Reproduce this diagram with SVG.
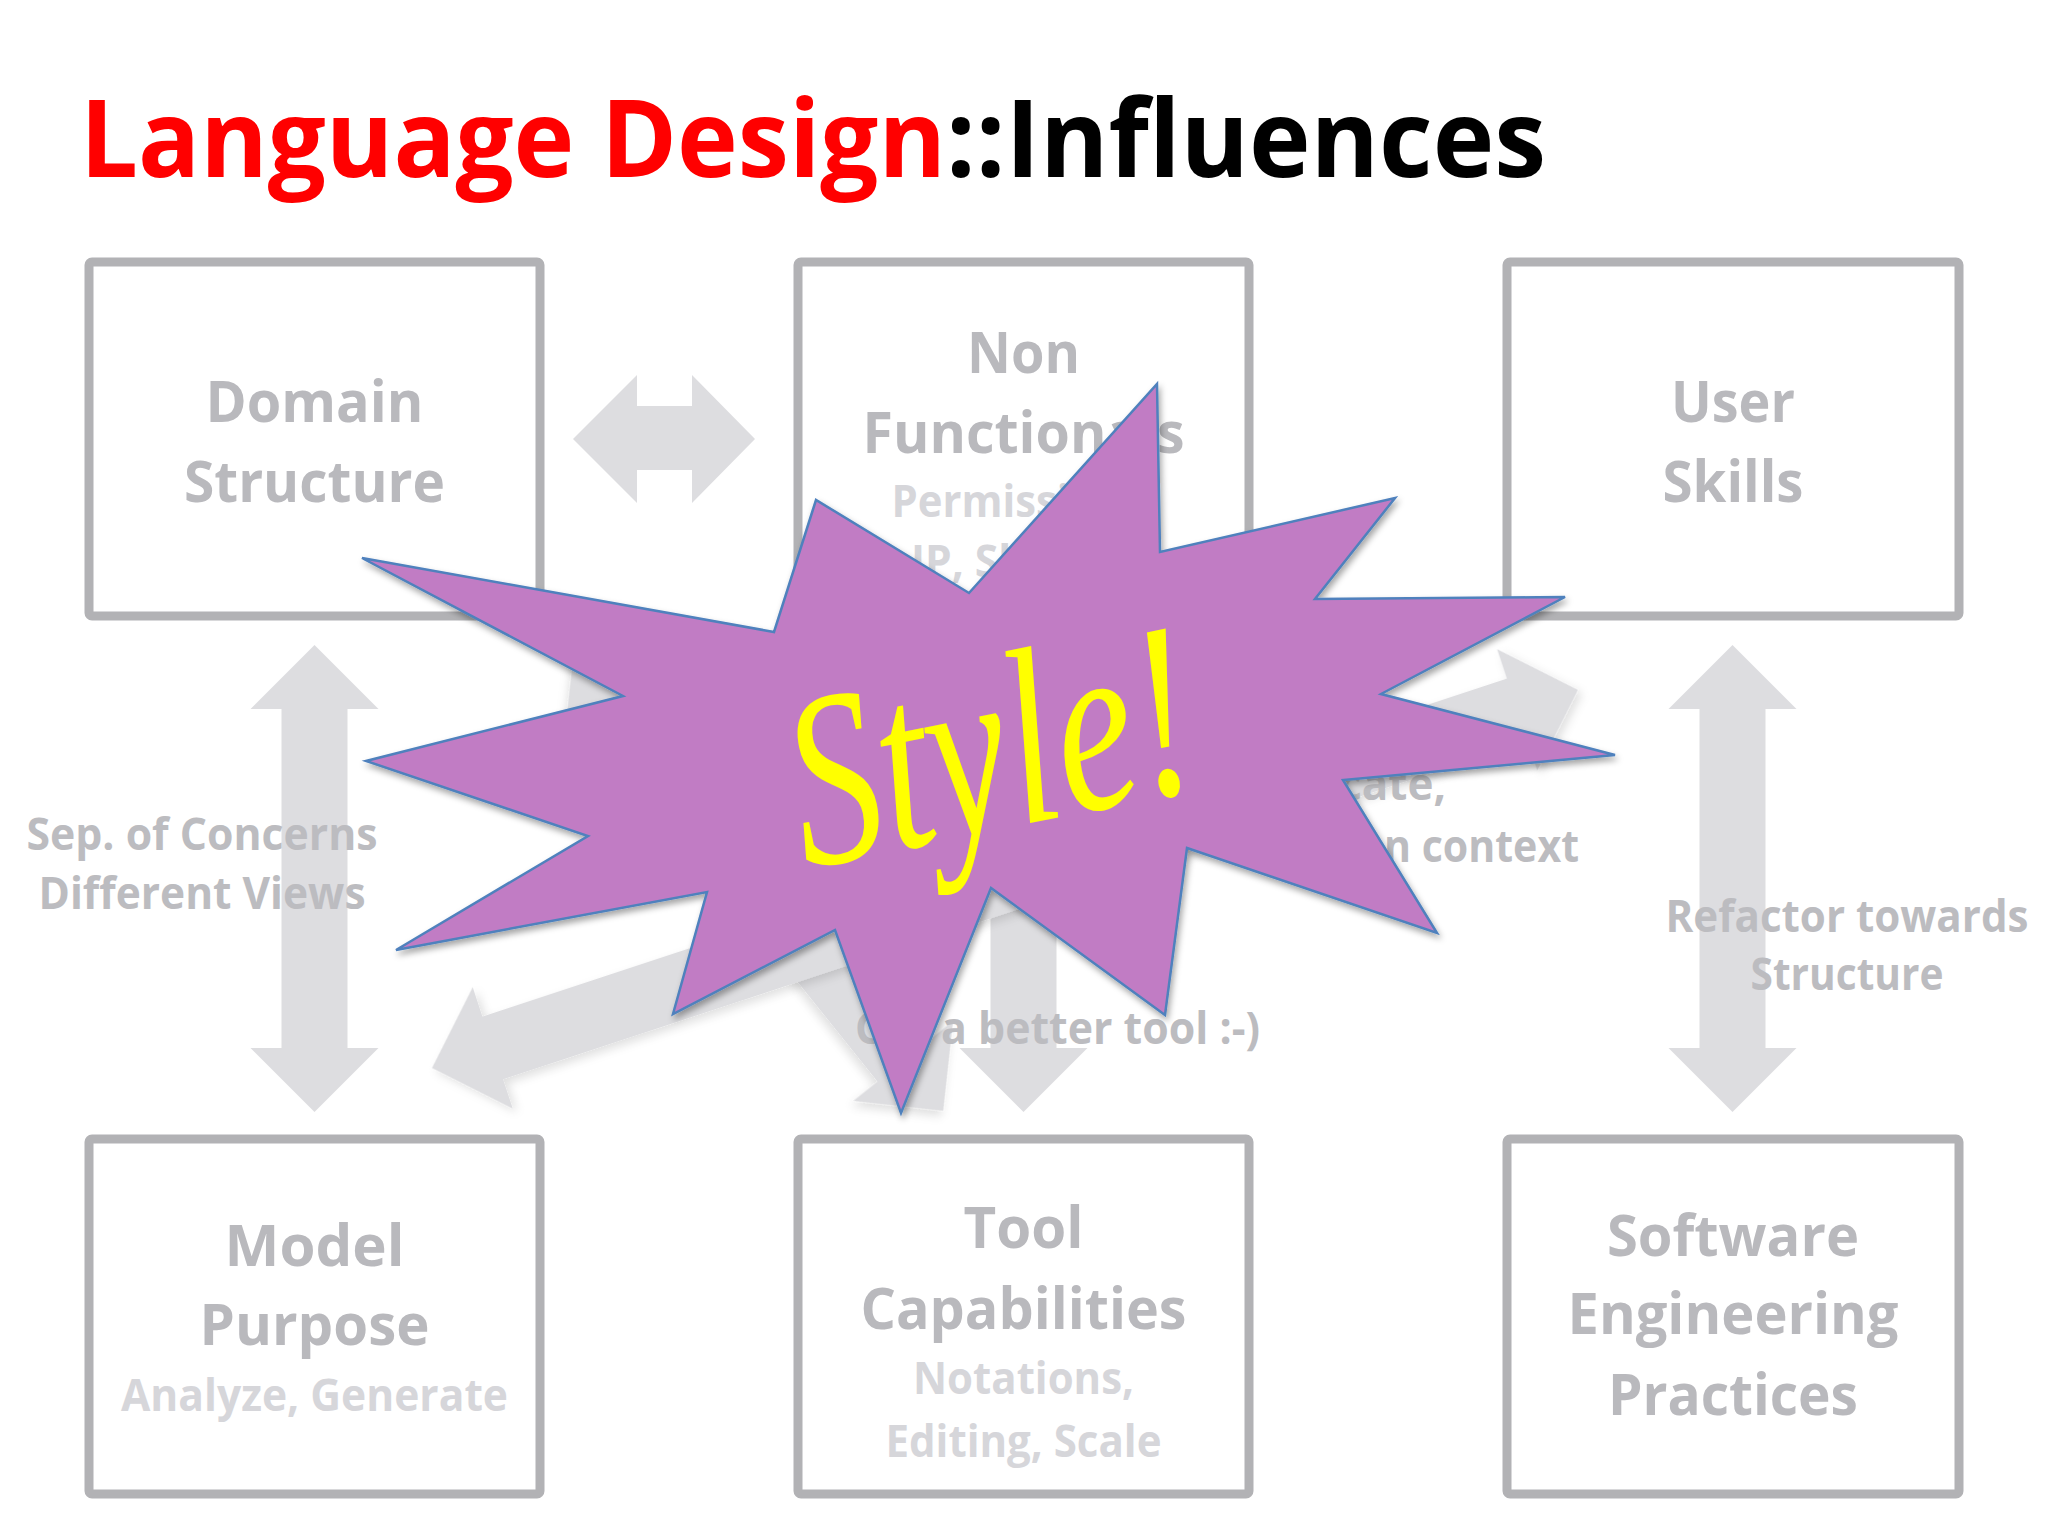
<svg xmlns="http://www.w3.org/2000/svg" width="2048" height="1536" viewBox="0 0 2048 1536">
<defs>
<style>
.box{fill:#ffffff;stroke:#b2b2b5;stroke-width:9}
.lbl{font-family:"Open Sans","Noto Sans","Liberation Sans",sans-serif;font-weight:700;font-size:58px;fill:#b9b9bd;text-anchor:middle}
.sub{font-family:"Open Sans","Noto Sans","Liberation Sans",sans-serif;font-weight:700;font-size:44px;fill:#d6d6da;text-anchor:middle}
.edge{font-family:"Open Sans","Noto Sans","Liberation Sans",sans-serif;font-weight:700;font-size:44px;fill:#bcbcc0}
.arr{fill:#dddde0}
.title{font-family:"Open Sans","Noto Sans","Liberation Sans",sans-serif;font-weight:700;font-size:108px}
</style>
<filter id="sh" x="-10%" y="-10%" width="120%" height="120%">
<feDropShadow dx="2" dy="4" stdDeviation="3" flood-color="#000000" flood-opacity="0.35"/>
</filter>
<filter id="ash" x="-10%" y="-20%" width="120%" height="140%">
<feDropShadow dx="3" dy="5" stdDeviation="5" flood-color="#000000" flood-opacity="0.12"/>
</filter>
</defs>
<rect x="0" y="0" width="2048" height="1536" fill="#ffffff"/>

<g id="title">
<text class="title" x="80" y="177" fill="#ff0000" textLength="866" lengthAdjust="spacingAndGlyphs">Language Design</text>
<text class="title" x="946" y="177" fill="#000000" textLength="600" lengthAdjust="spacingAndGlyphs">::Influences</text>
</g>

<g id="connectors">
<polygon class="arr" points="573,439 637,375 637,406 692,406 692,375 755,439 692,503 692,470 637,470 637,503"/>
<polygon class="arr" points="314.5,645 378.5,709 347.5,709 347.5,1048 378.5,1048 314.5,1112 250.5,1048 281.5,1048 281.5,709 250.5,709"/>
<polygon class="arr" points="1732.5,645 1796.5,709 1765.5,709 1765.5,1048 1796.5,1048 1732.5,1112 1668.5,1048 1699.5,1048 1699.5,709 1668.5,709"/>
<polygon class="arr" points="1023.5,645 1087.5,709 1056.5,709 1056.5,1048 1087.5,1048 1023.5,1112 959.5,1048 990.5,1048 990.5,709 959.5,709"/>
<polygon class="arr" filter="url(#ash)" transform="translate(574 650) rotate(51.3)" points="0,0 64,-64 64,-33 526.5,-33 526.5,-64 590.5,0 526.5,64 526.5,33 64,33 64,64"/>
<polygon class="arr" filter="url(#ash)" transform="translate(432 1068) rotate(-18.26)" points="0,0 64,-64 64,-33 1142.7,-33 1142.7,-64 1206.7,0 1142.7,64 1142.7,33 64,33 64,64"/>
<text class="edge" x="202" y="850" text-anchor="middle" textLength="351" lengthAdjust="spacingAndGlyphs">Sep. of Concerns</text>
<text class="edge" x="202" y="909" text-anchor="middle" textLength="327" lengthAdjust="spacingAndGlyphs">Different Views</text>
<text class="edge" x="1847" y="932" text-anchor="middle" textLength="363" lengthAdjust="spacingAndGlyphs">Refactor towards</text>
<text class="edge" x="1847" y="990" text-anchor="middle" textLength="193" lengthAdjust="spacingAndGlyphs">Structure</text>
<text class="edge" x="855" y="1044" textLength="405" lengthAdjust="spacingAndGlyphs">Get a better tool :-)</text>
<text class="edge" x="1446" y="800" text-anchor="end">cate,</text>
<text class="edge" x="1579" y="862" text-anchor="end" textLength="195" lengthAdjust="spacingAndGlyphs">n context</text>
</g>

<g id="domain-structure">
<rect class="box" x="89" y="262" width="451" height="354" rx="3"/>
<text class="lbl" x="314.5" y="422" textLength="218" lengthAdjust="spacingAndGlyphs">Domain</text>
<text class="lbl" x="314.5" y="502" textLength="261" lengthAdjust="spacingAndGlyphs">Structure</text>
</g>

<g id="non-functionals">
<rect class="box" x="798" y="262" width="451" height="354" rx="3"/>
<text class="lbl" x="1023.5" y="373" textLength="113" lengthAdjust="spacingAndGlyphs">Non</text>
<text class="lbl" x="1023.5" y="453" textLength="322" lengthAdjust="spacingAndGlyphs">Functionals</text>
<text class="sub" x="1023.5" y="517" textLength="264" lengthAdjust="spacingAndGlyphs">Permissions,</text>
<text class="sub" x="1023.5" y="577" textLength="225" lengthAdjust="spacingAndGlyphs">IP, Sharing</text>
</g>

<g id="user-skills">
<rect class="box" x="1507" y="262" width="452" height="354" rx="3"/>
<text class="lbl" x="1733" y="422" textLength="124" lengthAdjust="spacingAndGlyphs">User</text>
<text class="lbl" x="1733" y="502" textLength="141" lengthAdjust="spacingAndGlyphs">Skills</text>
</g>

<g id="model-purpose">
<rect class="box" x="89" y="1139" width="451" height="355" rx="3"/>
<text class="lbl" x="314.5" y="1266" textLength="180" lengthAdjust="spacingAndGlyphs">Model</text>
<text class="lbl" x="314.5" y="1345" textLength="230" lengthAdjust="spacingAndGlyphs">Purpose</text>
<text class="sub" x="314.5" y="1411" textLength="387" lengthAdjust="spacingAndGlyphs">Analyze, Generate</text>
</g>

<g id="tool-capabilities">
<rect class="box" x="798" y="1139" width="451" height="355" rx="3"/>
<text class="lbl" x="1023.5" y="1248" textLength="120" lengthAdjust="spacingAndGlyphs">Tool</text>
<text class="lbl" x="1023.5" y="1329" textLength="326" lengthAdjust="spacingAndGlyphs">Capabilities</text>
<text class="sub" x="1023.5" y="1394" textLength="221" lengthAdjust="spacingAndGlyphs">Notations,</text>
<text class="sub" x="1023.5" y="1457" textLength="276" lengthAdjust="spacingAndGlyphs">Editing, Scale</text>
</g>

<g id="software-engineering-practices">
<rect class="box" x="1507" y="1139" width="452" height="355" rx="3"/>
<text class="lbl" x="1733" y="1256" textLength="252" lengthAdjust="spacingAndGlyphs">Software</text>
<text class="lbl" x="1733" y="1334" textLength="331" lengthAdjust="spacingAndGlyphs">Engineering</text>
<text class="lbl" x="1733" y="1415" textLength="250" lengthAdjust="spacingAndGlyphs">Practices</text>
</g>

<g id="style-burst">
<polygon filter="url(#sh)" fill="#c17cc4" stroke="#4f81bd" stroke-width="2.5" stroke-linejoin="miter" points="1157,384 1160,552 1395,498 1315,599 1565,597 1381,694 1615,755 1343,780 1437,933 1187,848 1165,1015 991,888 901,1113 835,930 673,1014 707,892 396,950 588,836 366,761 623,696 362,558 774,632 816,500 969,593"/>
<g transform="translate(1006 828) rotate(-11.5)">
<text x="0" y="0" text-anchor="middle" font-family="'Liberation Serif','DejaVu Serif',serif" font-style="italic" font-size="250" fill="#ffff00" textLength="408" lengthAdjust="spacingAndGlyphs">Style!</text>
</g>
</g>
</svg>
